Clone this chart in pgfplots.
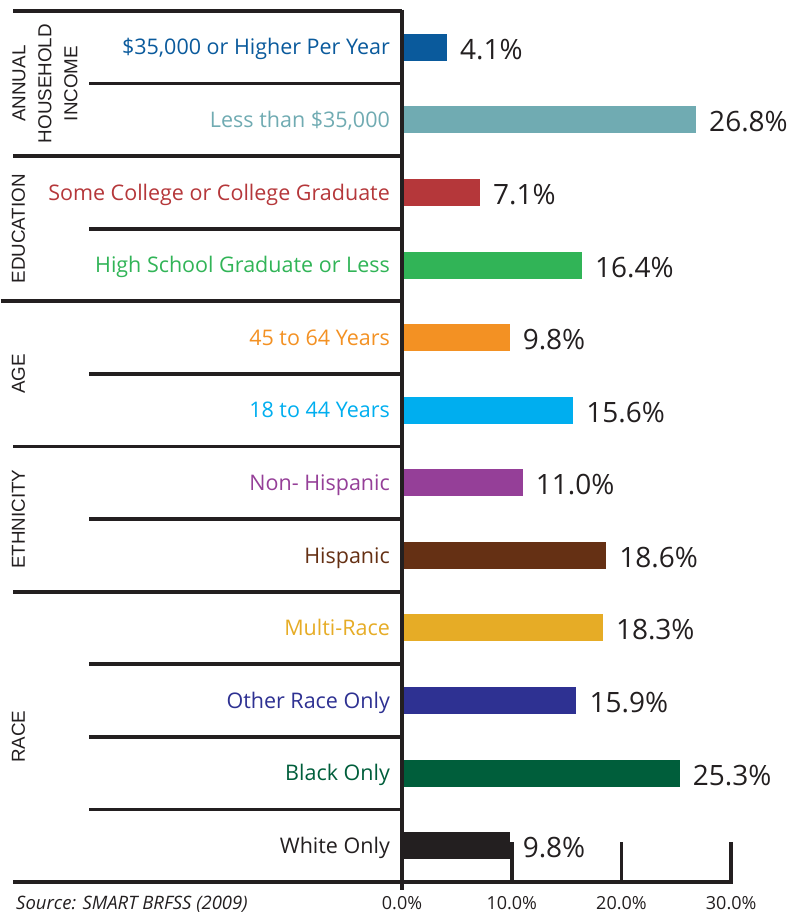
\documentclass[border=0pt]{standalone}
\usepackage{pgfplots}
\pgfplotsset{compat=1.18}
\usepackage{fontspec}
\setmainfont{Open Sans}
\newfontfamily\grpfont{Liberation Sans}

\definecolor{ink}{HTML}{231F20}
\definecolor{c1}{HTML}{0A5A9C}
\definecolor{c2}{HTML}{70ABB2}
\definecolor{c3}{HTML}{B5373A}
\definecolor{c4}{HTML}{31B457}
\definecolor{c5}{HTML}{F39123}
\definecolor{c6}{HTML}{00AEEF}
\definecolor{c7}{HTML}{953F98}
\definecolor{c8}{HTML}{653014}
\definecolor{c9}{HTML}{E6AC26}
\definecolor{c10}{HTML}{2E3192}
\definecolor{c11}{HTML}{005E3B}
\definecolor{c12}{HTML}{231F20}

\pgfplotsset{onebar/.style={fill=#1, draw=none, bar shift=0pt}}

\begin{document}
\begin{tikzpicture}
\begin{axis}[
    x=10.97pt, y=72.58pt,
    xmin=0, xmax=30, ymin=0.5, ymax=12.5,
    clip=false,
    axis line style={draw=none},
    xbar, bar width=27pt,
    /pgf/number format/assume math mode=true,
    xtick={0,10,20,30},
    xticklabels={0.0\%,10.0\%,20.0\%,30.0\%},
    xtick pos=left,
    tick align=inside,
    major tick length=40pt,
    x tick style={line width=3.8pt, color=ink},
    xticklabel style={font=\fontsize{18}{18}\selectfont, color=ink, inner sep=0pt,
        text height=12.85pt, text depth=0pt, yshift=-14.5pt},
    ytick={1,...,12},
    y tick style={draw=none},
    yticklabel style={anchor=east, inner sep=0pt, xshift=-12pt,
        font=\fontsize{21.5}{21.5}\selectfont, text height=15.3pt, text depth=0pt},
    yticklabels={
        {\color{c12}White Only},
        {\color{c11}Black Only},
        {\color{c10}Other Race Only},
        {\color{c9}Multi-Race},
        {\color{c8}Hispanic},
        {\color{c7}Non- Hispanic},
        {\color{c6}18 to 44 Years},
        {\color{c5}45 to 64 Years},
        {\color{c4}High School Graduate or Less},
        {\color{c3}Some College or College Graduate},
        {\color{c2}Less than \$35,000},
        {\color{c1}\$35,000 or Higher Per Year}},
    point meta=x,
    nodes near coords={\pgfmathprintnumber[fixed,fixed zerofill,precision=1]{\pgfplotspointmeta}\%},
    every node near coord/.append style={anchor=west, xshift=13pt, yshift=-2pt, inner sep=0pt,
        font=\fontsize{28}{28}\selectfont, color=ink, text height=20pt, text depth=0pt},
]
\addplot[onebar=c1]  coordinates {(4.1,12)};
\addplot[onebar=c2]  coordinates {(26.8,11)};
\addplot[onebar=c3]  coordinates {(7.1,10)};
\addplot[onebar=c4]  coordinates {(16.4,9)};
\addplot[onebar=c5]  coordinates {(9.8,8)};
\addplot[onebar=c6]  coordinates {(15.6,7)};
\addplot[onebar=c7]  coordinates {(11.0,6)};
\addplot[onebar=c8]  coordinates {(18.6,5)};
\addplot[onebar=c9]  coordinates {(18.3,4)};
\addplot[onebar=c10] coordinates {(15.9,3)};
\addplot[onebar=c11] coordinates {(25.3,2)};
\addplot[onebar=c12] coordinates {(9.8,1)};

% row separators
\draw[line width=3.8pt, ink] (axis cs:-35.46,12.5) -- (axis cs:0,12.5);
\draw[line width=3.8pt, ink] (axis cs:-28.53,11.5) -- (axis cs:0,11.5);
\draw[line width=3.8pt, ink] (axis cs:-35.46,10.5) -- (axis cs:0,10.5);
\draw[line width=3.8pt, ink] (axis cs:-28.53,9.5) -- (axis cs:0,9.5);
\draw[line width=3.8pt, ink] (axis cs:-36.6,8.5) -- (axis cs:0,8.5);
\draw[line width=3.8pt, ink] (axis cs:-28.53,7.5) -- (axis cs:0,7.5);
\draw[line width=3.8pt, ink] (axis cs:-35.46,6.5) -- (axis cs:0,6.5);
\draw[line width=3.8pt, ink] (axis cs:-28.53,5.5) -- (axis cs:0,5.5);
\draw[line width=3.8pt, ink] (axis cs:-35.46,4.5) -- (axis cs:0,4.5);
\draw[line width=3.8pt, ink] (axis cs:-28.53,3.5) -- (axis cs:0,3.5);
\draw[line width=3.8pt, ink] (axis cs:-28.53,2.5) -- (axis cs:0,2.5);
\draw[line width=3.8pt, ink] (axis cs:-28.53,1.5) -- (axis cs:0,1.5);
\draw[line width=3.8pt, ink] (axis cs:-35.46,0.5) -- (axis cs:30.15,0.5);
% value axis
\draw[line width=3.2pt, ink] (axis cs:0,12.52) -- (axis cs:0,0.389);

% group labels
\node[rotate=90, font=\grpfont\fontsize{18.8}{26}\selectfont, color=ink, align=center]
    at (axis cs:-32.54,11.5) {ANNUAL\\HOUSEHOLD\\INCOME};
\node[rotate=90, font=\grpfont\fontsize{18.8}{18.8}\selectfont, color=ink, inner sep=0pt,
    text height=13.5pt, text depth=0pt] at (axis cs:-35.0,9.5) {EDUCATION};
\node[rotate=90, font=\grpfont\fontsize{18.8}{18.8}\selectfont, color=ink, inner sep=0pt,
    text height=13.5pt, text depth=0pt] at (axis cs:-35.0,7.5) {AGE};
\node[rotate=90, font=\grpfont\fontsize{18.8}{18.8}\selectfont, color=ink, inner sep=0pt,
    text height=13.5pt, text depth=0pt] at (axis cs:-35.0,5.5) {ETHNICITY};
\node[rotate=90, font=\grpfont\fontsize{18.8}{18.8}\selectfont, color=ink, inner sep=0pt,
    text height=13.5pt, text depth=0pt] at (axis cs:-35.0,2.5) {RACE};

% source
\node[anchor=west, inner sep=0pt, font=\itshape\fontsize{18.5}{18.5}\selectfont, color=ink,
    text height=13.2pt, text depth=0pt] at (axis cs:-35.19,0.21) {Source: SMART BRFSS (2009)};

\coordinate (bbA) at (axis cs:-36.65,0.059);
\coordinate (bbB) at (axis cs:36.65,12.652);
\end{axis}
\pgfresetboundingbox
\path[use as bounding box] (bbA) rectangle (bbB);
\end{tikzpicture}
\end{document}
